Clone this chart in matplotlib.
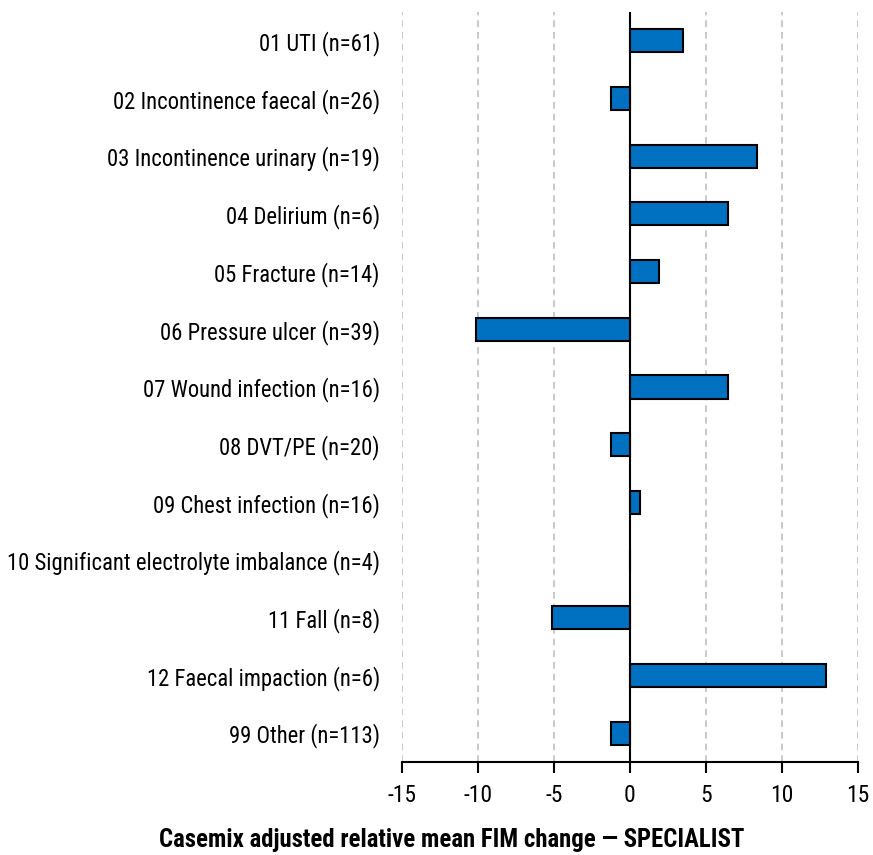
import matplotlib
matplotlib.use("Agg")
import matplotlib.pyplot as plt
from matplotlib import font_manager

categories = [
    "01 UTI (n=61)",
    "02 Incontinence faecal (n=26)",
    "03 Incontinence urinary (n=19)",
    "04 Delirium (n=6)",
    "05 Fracture (n=14)",
    "06 Pressure ulcer (n=39)",
    "07 Wound infection (n=16)",
    "08 DVT/PE (n=20)",
    "09 Chest infection (n=16)",
    "10 Significant electrolyte imbalance (n=4)",
    "11 Fall (n=8)",
    "12 Faecal impaction (n=6)",
    "99 Other (n=113)",
]
values = [3.47, -1.23, 8.35, 6.46, 1.89, -10.12, 6.46, -1.23, 0.66, 0.0, -5.12, 12.89, -1.23]
xticks = [-15, -10, -5, 0, 5, 10, 15]
xlabel = "Casemix adjusted relative mean FIM change \u2014 SPECIALIST"

# pick a condensed sans font if one is installed
names = {f.name for f in font_manager.fontManager.ttflist}
fam = "Liberation Sans"
for cand in ["Liberation Sans Narrow", "Arial Narrow", "Roboto Condensed", "Open Sans Condensed"]:
    if cand in names:
        fam = cand
        break
plt.rcParams["font.family"] = [fam, "DejaVu Sans"]

fig = plt.figure(figsize=(8.73, 8.55), dpi=100)
ax = fig.add_axes([402 / 873, 1 - 762 / 855, (857.7 - 402) / 873, (762 - 12) / 855])

y = list(range(len(categories)))
ax.barh(y, values, height=0.4, color="#0070C0", edgecolor="black", linewidth=1.5, zorder=3)

ax.set_xlim(-15, 15)
ax.set_ylim(len(categories) - 0.5, -0.5)
ax.set_xticks(xticks)
xtl = ax.set_xticklabels([str(t) for t in xticks], fontsize=16)
ax.set_yticks(y)
ylabels = ax.set_yticklabels(categories, fontsize=16)
ax.tick_params(axis="y", length=0, pad=16)
ax.tick_params(axis="x", length=8, width=1.5, direction="out", pad=8, color="black")

for t in xticks:
    if t != 0:
        ax.axvline(t, color="#c0c0c0", linestyle=(0, (4, 3)), linewidth=1.2, zorder=1)
ax.axvline(0, color="black", linewidth=1.5, zorder=4)

for s in ["top", "right", "left"]:
    ax.spines[s].set_visible(False)
ax.spines["bottom"].set_linewidth(1.5)
ax.spines["bottom"].set_zorder(5)

xl = fig.text(452 / 873, 1 - 840 / 855, xlabel, ha="center", va="center", fontsize=16, fontweight="bold")

# fit label font sizes to the widths seen in the reference
fig.canvas.draw()
r = fig.canvas.get_renderer()
longest = max(ylabels, key=lambda t: t.get_window_extent(r).width)
w = longest.get_window_extent(r).width
ysize = min(20, 16 * 372 / w)
for t in ylabels:
    t.set_fontsize(ysize)
wx = xl.get_window_extent(r).width
xl.set_fontsize(min(20, 16 * 585 / wx))
wt = xtl[0].get_window_extent(r).width
for t in xtl:
    t.set_fontsize(min(20, 16 * 29 / wt))

fig.savefig("out.png", dpi=100)
